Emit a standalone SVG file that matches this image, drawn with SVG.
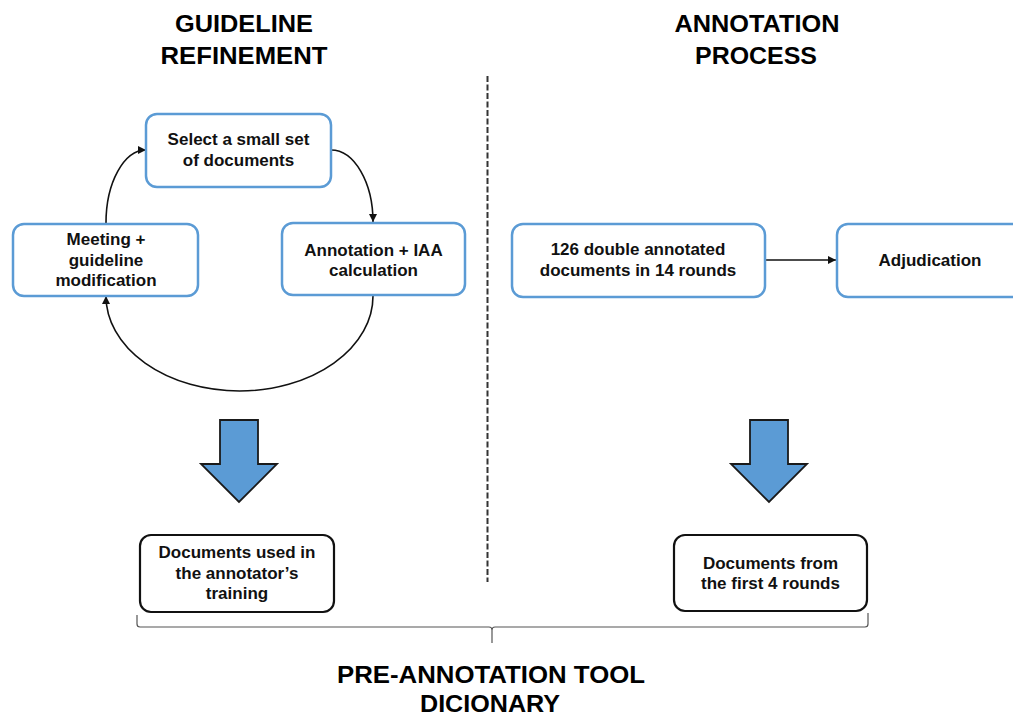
<svg xmlns="http://www.w3.org/2000/svg" width="1013" height="715" viewBox="0 0 1013 715">
<defs>
<style>
.title{font-family:"Liberation Sans",Arial,sans-serif;font-weight:bold;font-size:24px;fill:#000;text-anchor:middle}
.lbl{font-family:"Liberation Sans",Arial,sans-serif;font-weight:bold;font-size:17px;fill:#111;text-anchor:middle}
.bbox{fill:#fff;stroke:#5B9BD5;stroke-width:2.5}
.kbox{fill:#fff;stroke:#111;stroke-width:2.2}
.conn{fill:none;stroke:#111;stroke-width:1.6}
.big{fill:#5B9BD5;stroke:#1a1a1a;stroke-width:1.8;stroke-linejoin:miter}
.brace{fill:none;stroke:#555;stroke-width:1.2}
</style>
<marker id="ah" viewBox="0 0 10 10" refX="10" refY="5" markerWidth="8" markerHeight="8" markerUnits="userSpaceOnUse" orient="auto">
<path d="M0,0 L10,5 L0,10 z" fill="#111"/>
</marker>
</defs>
<rect width="1013" height="715" fill="#fff"/>

<g id="titles">
<text class="title" x="244" y="32" textLength="138" lengthAdjust="spacingAndGlyphs">GUIDELINE</text>
<text class="title" x="244" y="64" textLength="167" lengthAdjust="spacingAndGlyphs">REFINEMENT</text>
<text class="title" x="757" y="32" textLength="165" lengthAdjust="spacingAndGlyphs">ANNOTATION</text>
<text class="title" x="756" y="64" textLength="122" lengthAdjust="spacingAndGlyphs">PROCESS</text>
<text class="title" x="491" y="683" textLength="308" lengthAdjust="spacingAndGlyphs">PRE-ANNOTATION TOOL</text>
<text class="title" x="490" y="712" textLength="140" lengthAdjust="spacingAndGlyphs">DICIONARY</text>
</g>

<g id="divider">
<line x1="487.5" y1="76" x2="487.5" y2="582" stroke="#333" stroke-width="2" stroke-dasharray="6,2.5"/>
</g>

<g id="connectors">
<path class="conn" d="M331,150 A42,72 0 0 1 373,222" marker-end="url(#ah)"/>
<path class="conn" d="M373,296 A133.5,95 0 0 1 106,296" marker-end="url(#ah)"/>
<path class="conn" d="M106,223 A40,73 0 0 1 146,150" marker-end="url(#ah)"/>
<path class="conn" d="M765,260 L836,260" marker-end="url(#ah)"/>
</g>

<g id="node-select">
<rect class="bbox" x="146" y="114" width="185" height="73" rx="11"/>
<text class="lbl" x="238.5" y="145">Select a small set</text>
<text class="lbl" x="238.5" y="166">of documents</text>
</g>

<g id="node-meeting">
<rect class="bbox" x="13" y="224" width="185" height="72" rx="11"/>
<text class="lbl" x="106" y="245">Meeting +</text>
<text class="lbl" x="106" y="266">guideline</text>
<text class="lbl" x="106" y="286">modification</text>
</g>

<g id="node-annotation">
<rect class="bbox" x="282" y="223" width="183" height="72" rx="11"/>
<text class="lbl" x="373.5" y="256">Annotation + IAA</text>
<text class="lbl" x="373.5" y="276">calculation</text>
</g>

<g id="node-double">
<rect class="bbox" x="512" y="224" width="253" height="73" rx="11"/>
<text class="lbl" x="638" y="255">126 double annotated</text>
<text class="lbl" x="638" y="276">documents in 14 rounds</text>
</g>

<g id="node-adjudication">
<rect class="bbox" x="837" y="224" width="186" height="73" rx="11"/>
<text class="lbl" x="930" y="266">Adjudication</text>
</g>

<g id="arrow-left">
<polygon class="big" points="220,420 258,420 258,464 277,464 239,502 201,464 220,464"/>
</g>

<g id="arrow-right">
<polygon class="big" points="750,420 788,420 788,464 807,464 769,502 731,464 750,464"/>
</g>

<g id="node-training">
<rect class="kbox" x="140" y="535" width="194" height="77" rx="11"/>
<text class="lbl" x="237" y="558">Documents used in</text>
<text class="lbl" x="237" y="579">the annotator’s</text>
<text class="lbl" x="237" y="599">training</text>
</g>

<g id="node-first4">
<rect class="kbox" x="674" y="535" width="193" height="76" rx="11"/>
<text class="lbl" x="770.5" y="569">Documents from</text>
<text class="lbl" x="770.5" y="589">the first 4 rounds</text>
</g>

<g id="brace">
<path class="brace" d="M137,615 L137,624 Q137,627 140,627 L489,627 Q492,627 492,630 L492,643 M492,630 Q492,627 495,627 L865,627 Q868,627 868,624 L868,613"/>
</g>
</svg>
